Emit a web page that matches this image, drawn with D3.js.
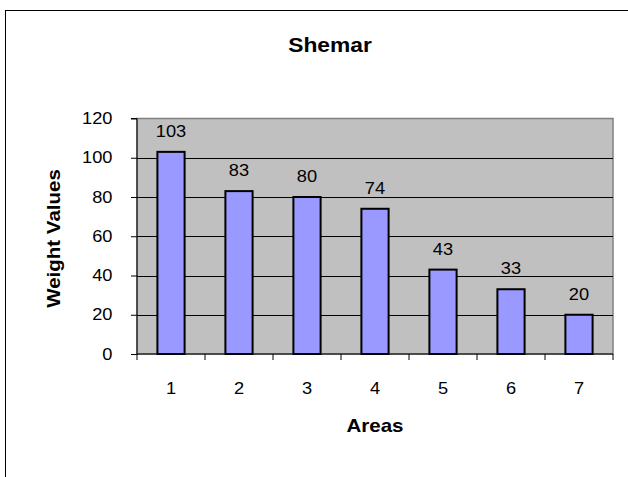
<!DOCTYPE html>
<html><head><meta charset="utf-8">
<script src="https://cdn.jsdelivr.net/npm/d3@7"></script>
<style>body{margin:0;background:#fff}svg{display:block}</style>
</head><body>
<script>
const categories = ["1","2","3","4","5","6","7"];
const values = [103, 83, 80, 74, 43, 33, 20];
const yTicks = [0, 20, 40, 60, 80, 100, 120];
const title = "Shemar";
const xTitle = "Areas";
const yTitle = "Weight Values";

const W = 628, H = 477;
const SX = 1.14;
const font = "Arial, 'Liberation Sans', sans-serif";
const svg = d3.select("body").append("svg").attr("width", W).attr("height", H);
svg.append("rect").attr("x", 0).attr("y", 0).attr("width", W).attr("height", H).attr("fill", "#fff");
svg.append("rect").attr("x", 5.5).attr("y", 10.5).attr("width", 640).attr("height", 480)
  .attr("fill", "#fff").attr("stroke", "#000").attr("stroke-width", 1);

// horizontally stretch a text about its anchor point
function stretch(sel) {
  sel.each(function () {
    const t = d3.select(this);
    const x = +t.attr("x") || 0, y = +t.attr("y") || 0;
    t.attr("x", 0).attr("y", 0).attr("transform", `translate(${x},${y}) scale(${SX},1)`);
  });
}

const L = 137, R = 613, T = 118.5, B = 354;
const xb = d3.scaleBand().domain(categories).range([L, R]);
const y = d3.scaleLinear().domain([0, 120]).range([B, T]);

svg.append("rect").attr("x", L).attr("y", T).attr("width", R - L).attr("height", B - T)
  .attr("fill", "#C0C0C0").attr("stroke", "#808080").attr("stroke-width", 1.5);

svg.append("g").selectAll("line").data(yTicks.filter(d => d > 0 && d < 120)).join("line")
  .attr("x1", L).attr("x2", R).attr("y1", d => Math.round(y(d)) + 0.5).attr("y2", d => Math.round(y(d)) + 0.5)
  .attr("stroke", "#000").attr("stroke-width", 1);

// bars
const bw = xb.bandwidth() / 2.5;
svg.append("g").selectAll("rect").data(values).join("rect")
  .attr("x", (d, i) => xb(categories[i]) + xb.bandwidth() / 2 - bw / 2)
  .attr("y", d => y(d))
  .attr("width", bw).attr("height", d => B - y(d))
  .attr("fill", "#9999FF").attr("stroke", "#000").attr("stroke-width", 2);

// value labels
svg.append("g").selectAll("text").data(values).join("text")
  .attr("x", (d, i) => xb(categories[i]) + xb.bandwidth() / 2)
  .attr("y", d => y(d) - 15)
  .attr("text-anchor", "middle").attr("font-family", font).attr("font-size", 16).attr("fill", "#000")
  .text(d => d)
  .call(stretch);

// y axis
const yAxis = d3.axisLeft(y).tickValues(yTicks).tickSize(6).tickPadding(18.5);
const gy = svg.append("g").attr("transform", `translate(${L},0)`).call(yAxis);
gy.select(".domain").attr("stroke", "#000").attr("d", `M${-6},${T}H0V${B}`);
gy.selectAll("line").attr("stroke", "#000");
gy.selectAll("text").attr("font-family", font).attr("font-size", 16).attr("fill", "#000").call(stretch);

// x axis
const xAxis = d3.axisBottom(xb).tickSize(0).tickPadding(29);
const gx = svg.append("g").attr("transform", `translate(0,${B})`).call(xAxis);
gx.select(".domain").attr("stroke", "#000").attr("d", `M${L},0H${R}`);
gx.selectAll("text").attr("font-family", font).attr("font-size", 16).attr("fill", "#000").call(stretch);
const edges = categories.map(c => xb(c)).concat([R]);
gx.append("g").selectAll("line").data(edges).join("line")
  .attr("x1", d => d).attr("x2", d => d).attr("y1", 0).attr("y2", 6).attr("stroke", "#000");

svg.append("text").attr("transform", `translate(330,52) scale(${SX},1)`).attr("text-anchor", "middle")
  .attr("font-family", font).attr("font-size", 20).attr("font-weight", "bold").text(title);
svg.append("text").attr("transform", `translate(${(L + R) / 2},432) scale(${SX},1)`).attr("text-anchor", "middle")
  .attr("font-family", font).attr("font-size", 18).attr("font-weight", "bold").text(xTitle);
svg.append("text").attr("transform", `translate(60,238.5) rotate(-90) scale(${SX},1)`).attr("text-anchor", "middle")
  .attr("font-family", font).attr("font-size", 18).attr("font-weight", "bold").text(yTitle);
</script>
</body></html>
